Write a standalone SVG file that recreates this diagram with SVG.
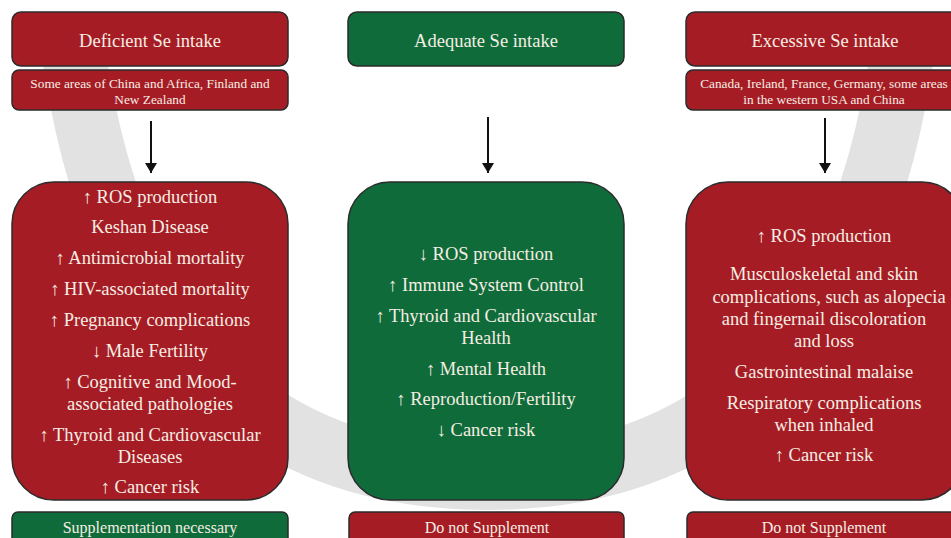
<svg xmlns="http://www.w3.org/2000/svg" width="951" height="538" viewBox="0 0 951 538">
<style>
.red{fill:#a61c24;stroke:#2b2b2b;stroke-width:1.5}
.green{fill:#0f6b39;stroke:#2b2b2b;stroke-width:1.5}
text{fill:#f5eee4;text-anchor:middle;font-family:'Liberation Serif',serif}
.t{font-size:18.5px}
.s{font-size:13.3px}
.b{font-size:18.5px}
.f{font-size:16px}
.conn{stroke:#111;stroke-width:2;fill:none}
</style>
<defs>
<marker id="ah" markerWidth="10" markerHeight="12" refX="10" refY="6" orient="auto" markerUnits="userSpaceOnUse">
<path d="M0,0 L10,6 L0,12 Z" fill="#111"/>
</marker>
</defs>
<rect width="951" height="538" fill="#ffffff"/>
<path d="M 72 40 C 110 330, 250 478, 488 478 C 726 478, 866 330, 904 40" fill="none" stroke="#e2e2e2" stroke-width="64"/>

<g id="connectors">
<line class="conn" x1="151" y1="121" x2="151" y2="173" marker-end="url(#ah)"/>
<line class="conn" x1="488" y1="117" x2="488" y2="173" marker-end="url(#ah)"/>
<line class="conn" x1="825" y1="118" x2="825" y2="173" marker-end="url(#ah)"/>
</g>

<g id="deficient-title">
<rect class="red" x="12" y="12" width="276" height="54" rx="9"/>
<text class="t" x="150" y="47">Deficient Se intake</text>
</g>
<g id="deficient-regions">
<rect class="red" x="12" y="70" width="276" height="40" rx="7"/>
<text class="s" x="150" y="88">Some areas of China and Africa, Finland and</text>
<text class="s" x="150" y="104">New Zealand</text>
</g>
<g id="adequate-title">
<rect class="green" x="348" y="12" width="276" height="54" rx="9"/>
<text class="t" x="486" y="47">Adequate Se intake</text>
</g>
<g id="excessive-title">
<rect class="red" x="686" y="12" width="278" height="54" rx="9"/>
<text class="t" x="825" y="47">Excessive Se intake</text>
</g>
<g id="excessive-regions">
<rect class="red" x="686" y="70" width="278" height="40" rx="7"/>
<text class="s" x="824" y="88">Canada, Ireland, France, Germany, some areas</text>
<text class="s" x="824" y="104">in the western USA and China</text>
</g>

<g id="deficient-effects">
<rect class="red" x="12" y="182" width="276" height="318" rx="42"/>
<text class="b" x="150" y="203">↑ ROS production</text>
<text class="b" x="150" y="233">Keshan Disease</text>
<text class="b" x="150" y="264">↑ Antimicrobial mortality</text>
<text class="b" x="150" y="295">↑ HIV-associated mortality</text>
<text class="b" x="150" y="326">↑ Pregnancy complications</text>
<text class="b" x="150" y="357">↓ Male Fertility</text>
<text class="b" x="150" y="388">↑ Cognitive and Mood-</text>
<text class="b" x="150" y="410">associated pathologies</text>
<text class="b" x="150" y="441">↑ Thyroid and Cardiovascular</text>
<text class="b" x="150" y="463">Diseases</text>
<text class="b" x="150" y="493">↑ Cancer risk</text>
</g>
<g id="adequate-effects">
<rect class="green" x="348" y="182" width="276" height="318" rx="42"/>
<text class="b" x="486" y="260">↓ ROS production</text>
<text class="b" x="486" y="291">↑ Immune System Control</text>
<text class="b" x="486" y="322">↑ Thyroid and Cardiovascular</text>
<text class="b" x="486" y="344">Health</text>
<text class="b" x="486" y="375">↑ Mental Health</text>
<text class="b" x="486" y="405">↑ Reproduction/Fertility</text>
<text class="b" x="486" y="436">↓ Cancer risk</text>
</g>
<g id="excessive-effects">
<rect class="red" x="686" y="182" width="278" height="318" rx="42"/>
<text class="b" x="824" y="242">↑ ROS production</text>
<text class="b" x="824" y="280">Musculoskeletal and skin</text>
<text class="b" x="829" y="303">complications, such as alopecia</text>
<text class="b" x="824" y="325">and fingernail discoloration</text>
<text class="b" x="824" y="347">and loss</text>
<text class="b" x="824" y="378">Gastrointestinal malaise</text>
<text class="b" x="824" y="409">Respiratory complications</text>
<text class="b" x="824" y="431">when inhaled</text>
<text class="b" x="824" y="461">↑ Cancer risk</text>
</g>

<g id="deficient-advice">
<rect class="green" x="12" y="512" width="276" height="40" rx="6"/>
<text class="f" x="150" y="533">Supplementation necessary</text>
</g>
<g id="adequate-advice">
<rect class="red" x="349" y="512" width="275" height="40" rx="6"/>
<text class="f" x="487" y="533">Do not Supplement</text>
</g>
<g id="excessive-advice">
<rect class="red" x="687" y="512" width="277" height="40" rx="6"/>
<text class="f" x="824" y="533">Do not Supplement</text>
</g>
</svg>
